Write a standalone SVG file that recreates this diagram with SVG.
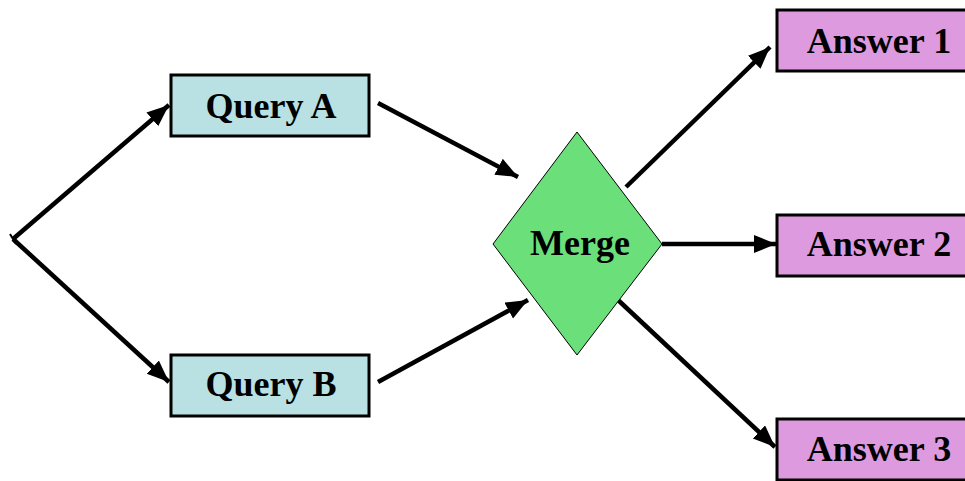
<svg xmlns="http://www.w3.org/2000/svg" width="965" height="481" viewBox="0 0 965 481">
<style>
.q{fill:#b9e0e3;stroke:#000;stroke-width:3}
.a{fill:#dd9ade;stroke:#000;stroke-width:3}
.m{fill:#6be07a;stroke:#000;stroke-width:1}
.t{font-family:"Liberation Serif","Times New Roman",serif;font-weight:bold;font-size:36px;fill:#000;text-anchor:middle}
.c{stroke:#000;stroke-width:4.5;fill:none;marker-end:url(#ah)}
</style>
<defs>
<marker id="ah" markerUnits="userSpaceOnUse" markerWidth="24" markerHeight="20" refX="22" refY="9" orient="auto">
<path d="M0,0 L22,9 L0,18 Z" fill="#000"/>
</marker>
</defs>
<rect width="965" height="481" fill="#fff"/>
<g id="connectors">
<line class="c" x1="13" y1="239" x2="169" y2="105"/>
<line class="c" x1="13" y1="239" x2="169" y2="382"/>
<line class="c" x1="378" y1="103" x2="518" y2="177"/>
<line class="c" x1="378" y1="382" x2="528" y2="300"/>
<line class="c" x1="626" y1="187" x2="770" y2="47"/>
<line class="c" x1="662" y1="244" x2="776" y2="244"/>
<line class="c" x1="618" y1="300" x2="775" y2="447"/>
<line x1="10" y1="234" x2="16" y2="244" stroke="#000" stroke-width="2"/>
</g>
<g id="queryA"><rect class="q" x="171" y="75" width="198" height="61"/><text class="t" x="271" y="118">Query A</text></g>
<g id="queryB"><rect class="q" x="171" y="355" width="198" height="61"/><text class="t" x="271" y="396">Query B</text></g>
<g id="merge"><polygon class="m" points="577,132 662,244 577,355 493,244"/><text class="t" x="580" y="255">Merge</text></g>
<g id="answer1"><rect class="a" x="777" y="10" width="210" height="61"/><text class="t" x="879" y="53">Answer 1</text></g>
<g id="answer2"><rect class="a" x="777" y="215" width="210" height="61"/><text class="t" x="879" y="256">Answer 2</text></g>
<g id="answer3"><rect class="a" x="777" y="419" width="210" height="61"/><text class="t" x="879" y="461">Answer 3</text></g>
</svg>
